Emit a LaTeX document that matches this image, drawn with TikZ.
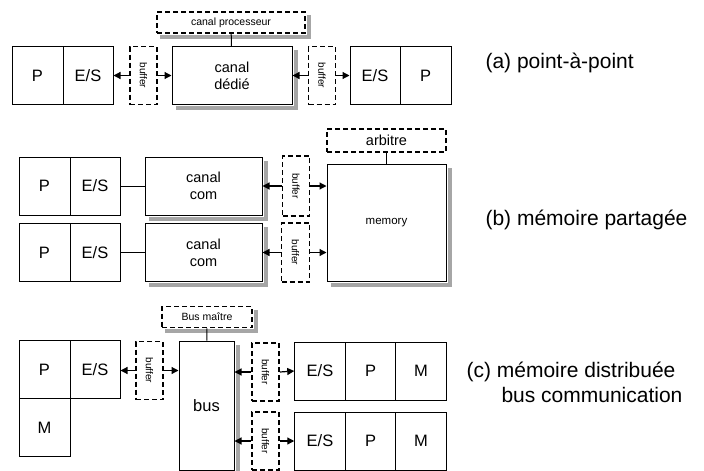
\documentclass[tikz,border=0pt]{standalone}
\usepackage{fontspec}
\setmainfont{Liberation Sans}
\usetikzlibrary{arrows.meta}
\begin{document}
\begin{tikzpicture}[x=1pt,y=-1pt,
    box/.style={draw,line width=1pt,inner sep=0pt,align=center,fill=white,font=\fontsize{16.5}{18}\selectfont},
    dbox/.style={draw,line width=1.8pt,dash pattern=on 5pt off 3pt,inner sep=0pt,fill=white},
    buf/.style={dbox,minimum width=27pt,minimum height=58pt},
    btxt/.style={rotate=-90,font=\fontsize{10}{12}\selectfont},
    arr/.style={-{Triangle[length=7pt,width=7pt]},line width=1.2pt},
    shd/.style={fill=black!35},
    lbl/.style={anchor=west,font=\fontsize{21}{24}\selectfont}]
  \useasboundingbox (0,0) rectangle (704,471);
  % (a)
  \node[box,minimum width=51pt,minimum height=58pt] (pa) at (37.5,75.5) {P};
  \node[box,minimum width=50pt,minimum height=58pt] (esa) at (88,75.5) {E/S};
  \node[buf] (bufa) at (143.5,75.5) {};
  \node[btxt] at (bufa) {buffer};
  \node[box,minimum width=120pt,minimum height=58pt,font=\fontsize{14.5}{17}\selectfont] (dedie) at (232,75.5) {canal\\dédié};
  \node[dbox,minimum width=148pt,minimum height=21pt,font=\fontsize{10.5}{12}\selectfont] (cproc) at (231,22.5) {canal processeur};
  \node[buf] (bufb) at (322,75.5) {};
  \node[btxt] at (bufb) {buffer};
  \node[box,minimum width=50pt,minimum height=58pt] (esb) at (375,75.5) {E/S};
  \node[box,minimum width=51pt,minimum height=58pt] (pb) at (425.5,75.5) {P};
  \node[lbl] (la) at (482,63) {(a) point-à-point};
  % (b)
  \node[box,minimum width=51pt,minimum height=58pt] (pc) at (44.5,186) {P};
  \node[box,minimum width=50pt,minimum height=58pt] (esc) at (95,186) {E/S};
  \node[box,minimum width=117pt,minimum height=58pt,font=\fontsize{14.5}{17}\selectfont] (comc) at (203.5,186) {canal\\com};
  \node[buf,minimum height=60pt] (bufc) at (296,186) {};
  \node[btxt] at (bufc) {buffer};
  \node[box,minimum width=51pt,minimum height=58pt] (pd) at (44.5,252.5) {P};
  \node[box,minimum width=50pt,minimum height=58pt] (esd) at (95,252.5) {E/S};
  \node[box,minimum width=117pt,minimum height=58pt,font=\fontsize{14.5}{17}\selectfont] (comd) at (203.5,252.5) {canal\\com};
  \node[buf,minimum width=28pt,minimum height=59pt] (bufd) at (295.5,252.5) {};
  \node[btxt] at (bufd) {buffer};
  \node[box,minimum width=119pt,minimum height=117pt,font=\fontsize{11.5}{13}\selectfont] (mem) at (386.5,222.5) {memory};
  \node[dbox,minimum width=119pt,minimum height=23pt,font=\fontsize{14.5}{16}\selectfont] (arb) at (386.5,140.5) {arbitre};
  \node[lbl] (lb) at (482,220) {(b) mémoire partagée};
  % (c)
  \node[box,minimum width=51pt,minimum height=57.5pt] (pe) at (44.5,369.5) {P};
  \node[box,minimum width=50pt,minimum height=57.5pt] (ese) at (95,369.5) {E/S};
  \node[box,minimum width=51pt,minimum height=58pt] (me) at (44.5,427.5) {M};
  \node[buf] (bufe) at (149.5,370.5) {};
  \node[btxt] at (bufe) {buffer};
  \node[box,minimum width=55pt,minimum height=129pt] (bus) at (206.5,405.5) {bus};
  \node[dbox,minimum width=90pt,minimum height=21pt,font=\fontsize{10.5}{12}\selectfont] (bmaitre) at (207,317) {Bus maître};
  \node[buf] (buff) at (265.5,372) {};
  \node[btxt] at (buff) {buffer};
  \node[buf] (bufg) at (265.5,441) {};
  \node[btxt] at (bufg) {buffer};
  \node[box,minimum width=50.5pt,minimum height=58pt] (esf) at (320,371) {E/S};
  \node[box,minimum width=50.5pt,minimum height=58pt] (pf) at (370.5,371) {P};
  \node[box,minimum width=50.5pt,minimum height=58pt] (mf) at (421,371) {M};
  \node[box,minimum width=50.5pt,minimum height=58pt] (esg) at (320,441) {E/S};
  \node[box,minimum width=50.5pt,minimum height=58pt] (pg) at (370.5,441) {P};
  \node[box,minimum width=50.5pt,minimum height=58pt] (mg) at (421,441) {M};
  \node[lbl] (lc) at (463,372) {(c) mémoire distribuée};
  \node[lbl] (ld) at (498,395) {bus communication};
  % shadows: right and bottom strips
  \foreach \n in {dedie,cproc,comc,comd,mem,bmaitre,bus} {
    \fill[shd] ([xshift=1pt,yshift=-4pt]\n.north east) rectangle ([xshift=5pt,yshift=-4pt]\n.south east);
    \fill[shd] ([xshift=4pt,yshift=-1pt]\n.south west) rectangle ([xshift=5pt,yshift=-5pt]\n.south east);
  }
  % connectors
  \draw[line width=1pt] (cproc) -- (dedie);
  \draw[arr] (bufa.west) -- (esa.east);
  \draw[arr] (bufa.east) -- (dedie.west);
  \draw[arr] (bufb.west) -- (dedie.east);
  \draw[arr] (bufb.east) -- (esb.west);
  \draw[line width=1pt] (arb) -- (mem);
  \draw[line width=1pt] (esc) -- (comc);
  \draw[line width=1pt] (esd) -- (comd);
  \draw[arr] (bufc.west) -- (comc.east);
  \draw[arr] (bufc.east) -- (bufc.east -| mem.west);
  \draw[arr] (bufd.west) -- (comd.east);
  \draw[arr] (bufd.east) -- (bufd.east -| mem.west);
  \draw[line width=1pt] (bmaitre) -- (bus);
  \draw[arr] (bufe.west) -- (bufe.west -| ese.east);
  \draw[arr] (bufe.east) -- (bufe.east -| bus.west);
  \draw[arr] (buff.west) -- (buff.west -| bus.east);
  \draw[arr] (buff.east) -- (esf.west);
  \draw[arr] (bufg.west) -- (bufg.west -| bus.east);
  \draw[arr] (bufg.east) -- (esg.west);
\end{tikzpicture}
\end{document}
